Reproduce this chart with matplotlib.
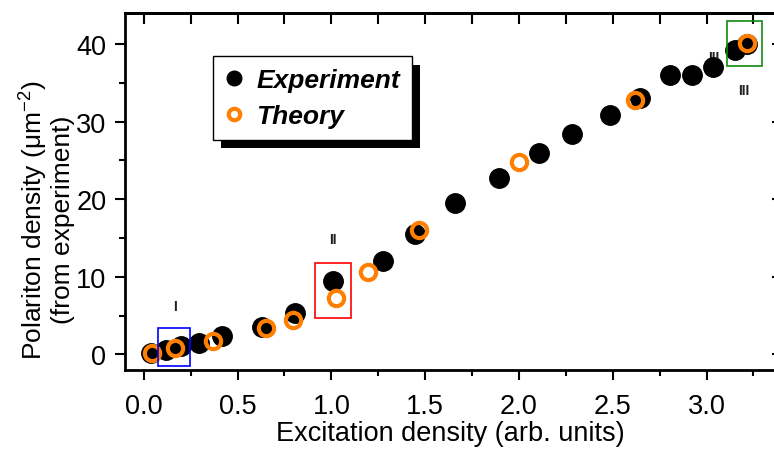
import matplotlib
matplotlib.use('Agg')
import matplotlib.pyplot as plt
import matplotlib.patheffects as pe
from matplotlib.patches import Rectangle
from matplotlib.ticker import MultipleLocator

plt.rcParams['font.family'] = ['Liberation Sans', 'DejaVu Sans']
plt.rcParams['mathtext.fontset'] = 'custom'
plt.rcParams['mathtext.rm'] = 'Liberation Sans'

# measured data
exp_x = [0.041, 0.121, 0.201, 0.293, 0.418, 0.628, 0.805, 1.010, 1.276, 1.445,
         1.659, 1.895, 2.108, 2.281, 2.485, 2.645, 2.805, 2.921, 3.033, 3.152, 3.214]
exp_y = [0.22, 0.64, 1.03, 1.47, 2.37, 3.53, 5.33, 9.52, 12.02, 15.53,
         19.49, 22.74, 25.92, 28.40, 30.85, 33.03, 35.99, 35.99, 36.99, 39.25, 39.99]

theo_x = [0.044, 0.169, 0.370, 0.654, 0.793, 1.024, 1.193, 1.467, 2.002, 2.619, 3.214]
theo_y = [0.18, 0.82, 1.80, 3.40, 4.50, 7.26, 10.68, 16.09, 24.76, 32.78, 40.12]

# highlighted regions: (x0, x1, y0, y1, colour, label, label_x, label_y)
regions = [
    (0.076, 0.249, -1.49, 3.44, '#0000ff', 'I', 0.165, 6.2),
    (0.912, 1.102, 4.72, 11.76, '#ff0000', 'II', 1.006, 14.9),
    (3.108, 3.298, 37.2, 43.0, '#108a10', 'III', 3.196, 34.1),
]

fig = plt.figure(figsize=(7.74, 4.52), dpi=100)
ax = fig.add_axes([125/774, 1-371/452, 651/774, 357/452])

ax.text(3.036, 38.3, 'III', fontsize=10, fontweight='bold', color='#222222',
        ha='center', va='center', zorder=1)

ax.plot(exp_x, exp_y, 'o', color='black', markersize=14, label='Experiment', zorder=3)
ax.plot(theo_x, theo_y, 'o', markerfacecolor='none', markeredgecolor='#ff8000',
        markersize=11, markeredgewidth=3, label='Theory', zorder=4)

for x0, x1, y0, y1, c, lab, lx, ly in regions:
    ax.add_patch(Rectangle((x0, y0), x1 - x0, y1 - y0, fill=False,
                           edgecolor=c, linewidth=1.2, zorder=5))
    ax.text(lx, ly, lab, fontsize=10, fontweight='bold', color='#222222',
            ha='center', va='center', zorder=5)

ax.set_xlim(-0.10, 3.37)
ax.set_ylim(-2, 44)

ax.xaxis.set_major_locator(MultipleLocator(0.5))
ax.xaxis.set_minor_locator(MultipleLocator(0.25))
ax.yaxis.set_major_locator(MultipleLocator(10))
ax.yaxis.set_minor_locator(MultipleLocator(5))
ax.xaxis.set_major_formatter(matplotlib.ticker.FormatStrFormatter('%.1f'))

ax.tick_params(which='major', direction='out', length=7.5, width=1.5, labelsize=19.5)
ax.tick_params(axis='x', which='major', pad=9)
ax.tick_params(axis='y', which='major', pad=6)
ax.tick_params(which='minor', direction='out', length=4, width=1.5)
for s in ax.spines.values():
    s.set_linewidth(2)

top = ax.secondary_xaxis('top')
top.xaxis.set_major_locator(MultipleLocator(0.25))
top.tick_params(direction='in', length=8, width=1.5, labeltop=False)
top.spines['top'].set_linewidth(2)

right = ax.secondary_yaxis('right')
right.yaxis.set_major_locator(MultipleLocator(10))
right.tick_params(direction='in', length=3, width=1.5, labelright=False)

ax.set_xlabel('Excitation density (arb. units)', fontsize=19.5, labelpad=1)
ax.set_ylabel('Polariton density (μm$^{-2}$)\n(from experiment)', fontsize=19,
              linespacing=1.1)
ax.yaxis.set_label_coords(-0.077, 0.423)

leg = ax.legend(loc='upper left', bbox_to_anchor=(0.1347, 0.879), borderaxespad=0,
                fancybox=False, framealpha=1, edgecolor='black', markerscale=0.75,
                prop={'size': 19, 'weight': 'bold', 'style': 'italic'},
                handlelength=0.7, handletextpad=0.5, labelspacing=0.45,
                borderpad=0.45)
leg.get_frame().set_linewidth(1)
leg.get_frame().set_path_effects([
    pe.SimplePatchShadow(offset=(6, -6), shadow_rgbFace='black', alpha=1),
    pe.Normal()])

fig.savefig('out.png', dpi=100)
